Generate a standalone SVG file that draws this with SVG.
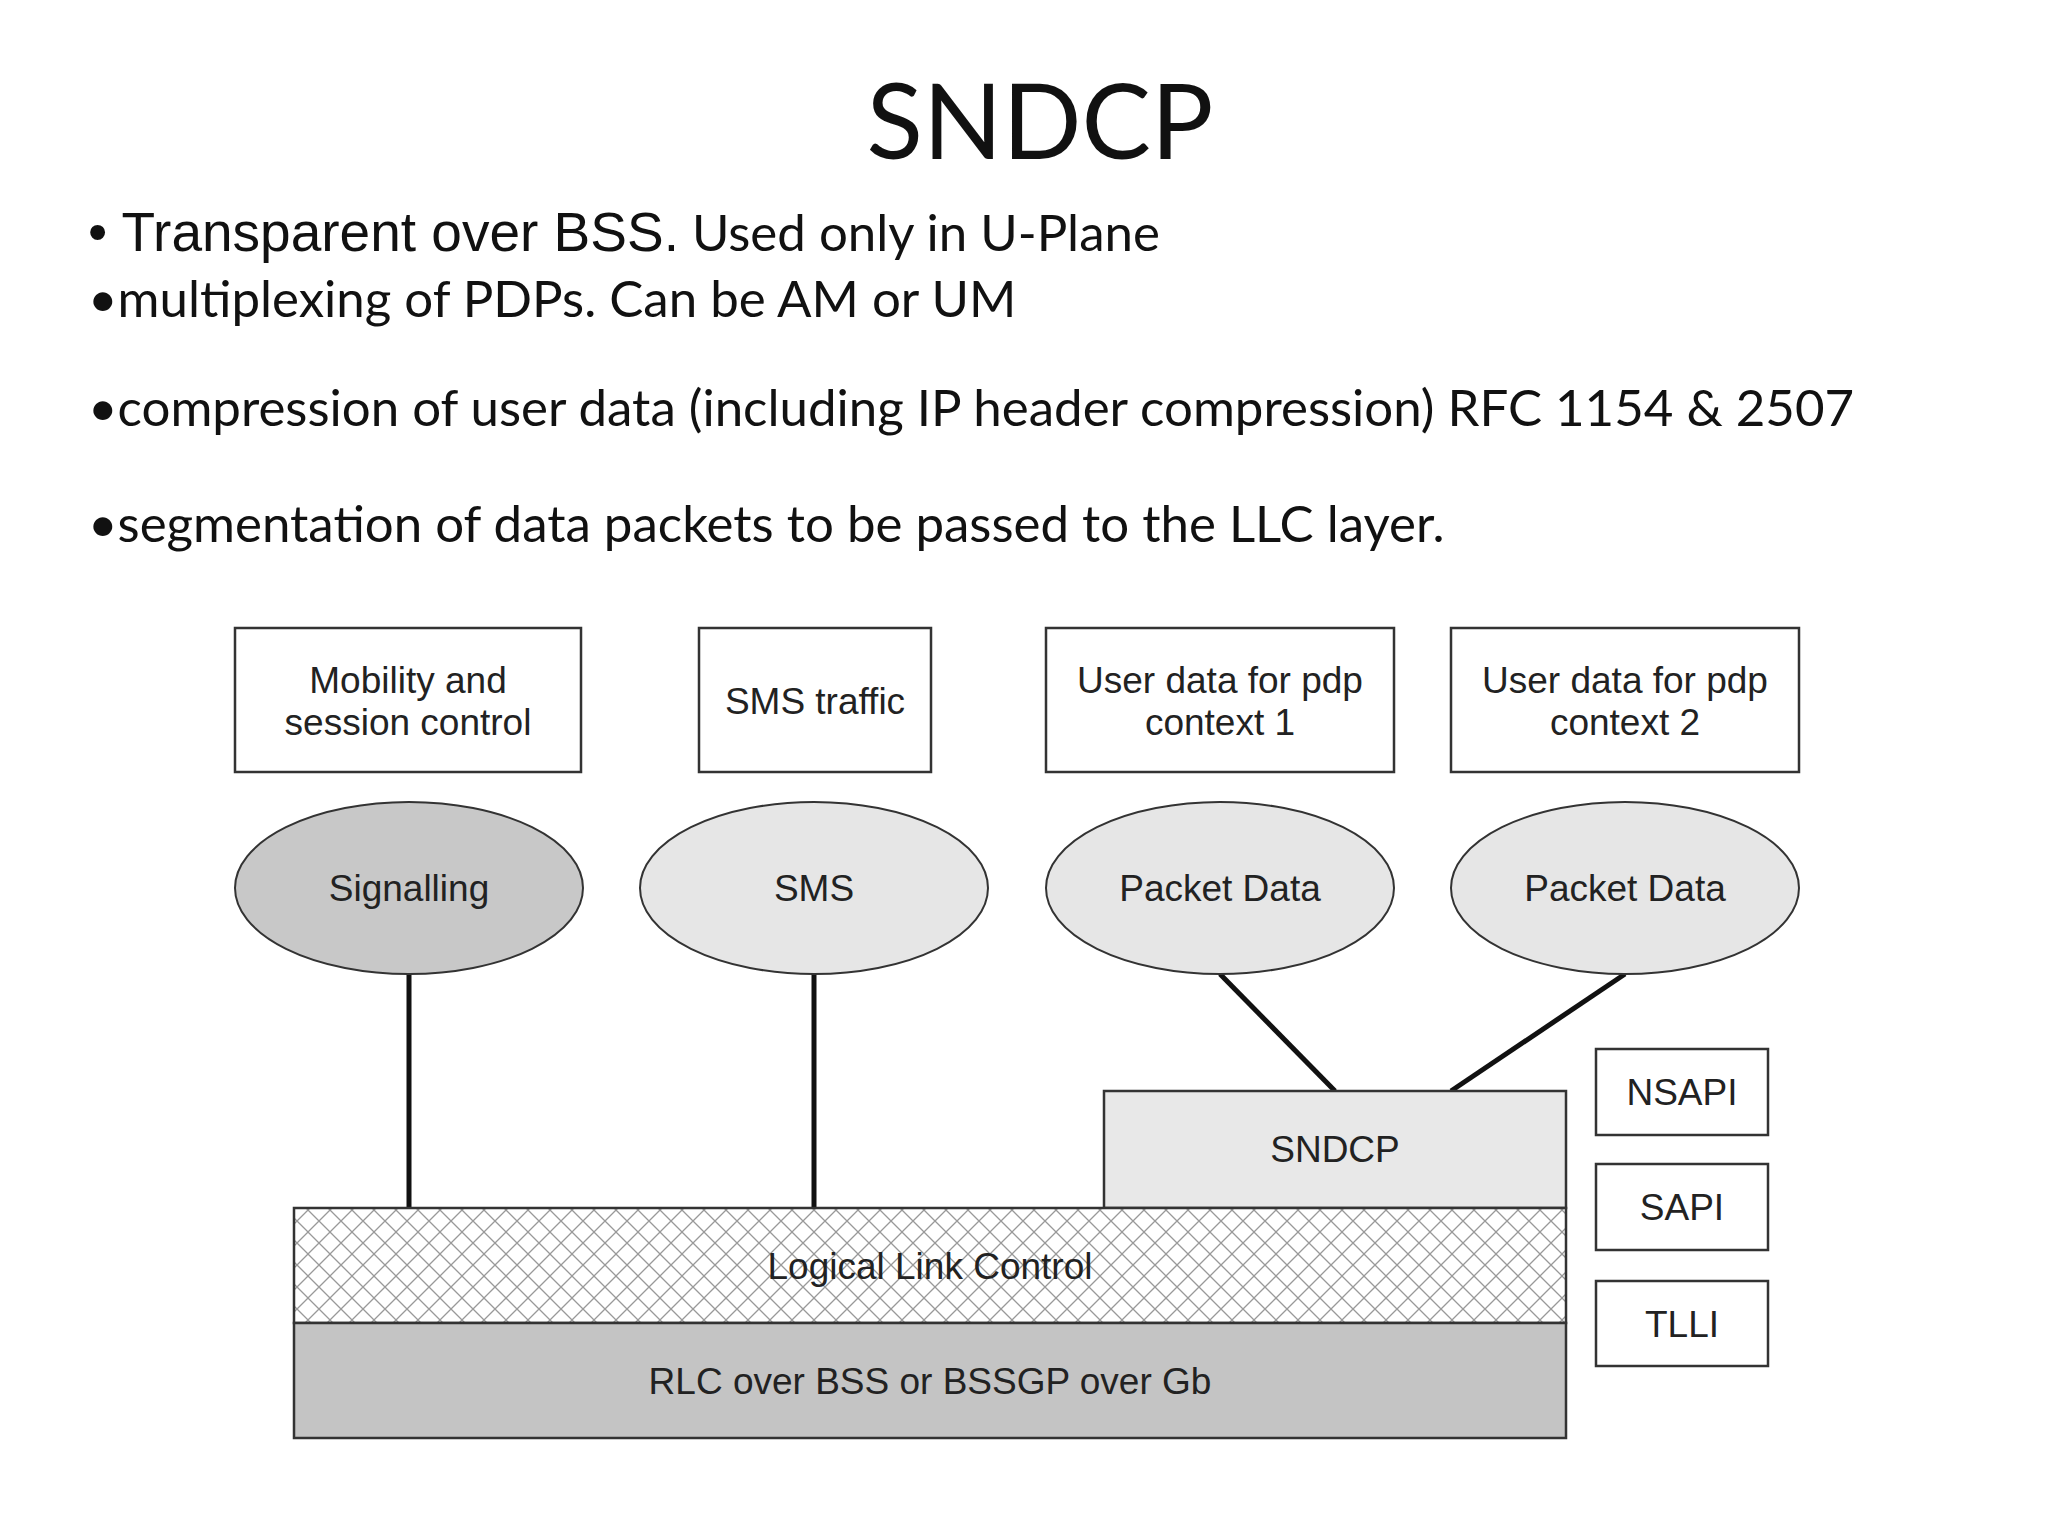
<svg xmlns="http://www.w3.org/2000/svg" width="2048" height="1536" viewBox="0 0 2048 1536">
<style>
.t{font-family:"Liberation Sans",Arial,sans-serif;font-size:37px;fill:#222;text-anchor:middle}
.b{fill:#fff;stroke:#333;stroke-width:2.5}
.e{stroke:#333;stroke-width:2}
.c{stroke:#111;stroke-width:5;fill:none}
.s{font-family:Lato,"Open Sans",sans-serif;font-size:51px;fill:#111}
</style>
<defs>
<pattern id="x" width="22" height="22" patternUnits="userSpaceOnUse">
<rect width="22" height="22" fill="#fff"/>
<path d="M0 0L22 22M22 0L0 22" stroke="#999" stroke-width="1.3"/>
</pattern>
</defs>
<rect width="2048" height="1536" fill="#fff"/>
<text x="1040" y="159" font-family="Lato,'Open Sans',sans-serif" font-size="104" text-anchor="middle" fill="#111">SNDCP</text>
<text x="88" y="251" class="s"><tspan font-family="'Liberation Sans',Arial,sans-serif" font-size="55">•  Transparent over  BSS.</tspan> Used only in U-Plane</text>
<text x="88" y="317" class="s">•multiplexing of PDPs.  Can be AM or UM</text>
<text x="88" y="426" class="s">•compression of user data (including IP header compression)  RFC 1154 &amp; 2507</text>
<text x="88" y="542" class="s">•segmentation of data packets to be passed to the LLC layer.</text>
<g id="connectors">
<line class="c" x1="409" y1="974" x2="409" y2="1208"/>
<line class="c" x1="814" y1="974" x2="814" y2="1208"/>
<line class="c" x1="1220" y1="974" x2="1335" y2="1091"/>
<line class="c" x1="1625" y1="974" x2="1451" y2="1091"/>
</g>
<g id="box1"><rect class="b" x="235" y="628" width="346" height="144"/><text class="t" x="408" y="693">Mobility and</text><text class="t" x="408" y="735">session control</text></g>
<g id="box2"><rect class="b" x="699" y="628" width="232" height="144"/><text class="t" x="815" y="714">SMS traffic</text></g>
<g id="box3"><rect class="b" x="1046" y="628" width="348" height="144"/><text class="t" x="1220" y="693">User data for pdp</text><text class="t" x="1220" y="735">context 1</text></g>
<g id="box4"><rect class="b" x="1451" y="628" width="348" height="144"/><text class="t" x="1625" y="693">User data for pdp</text><text class="t" x="1625" y="735">context 2</text></g>
<g id="sig"><ellipse class="e" cx="409" cy="888" rx="174" ry="86" fill="#c8c8c8"/><text class="t" x="409" y="901">Signalling</text></g>
<g id="sms"><ellipse class="e" cx="814" cy="888" rx="174" ry="86" fill="#e6e6e6"/><text class="t" x="814" y="901">SMS</text></g>
<g id="pd1"><ellipse class="e" cx="1220" cy="888" rx="174" ry="86" fill="#e6e6e6"/><text class="t" x="1220" y="901">Packet Data</text></g>
<g id="pd2"><ellipse class="e" cx="1625" cy="888" rx="174" ry="86" fill="#e6e6e6"/><text class="t" x="1625" y="901">Packet Data</text></g>
<g id="sndcp"><rect class="b" x="1104" y="1091" width="462" height="117" fill="#e8e8e8" style="fill:#e8e8e8"/><text class="t" x="1335" y="1162">SNDCP</text></g>
<g id="llc"><rect x="294" y="1208" width="1272" height="115" fill="url(#x)" stroke="#333" stroke-width="2.5"/><text class="t" x="930" y="1279">Logical Link Control</text></g>
<g id="rlc"><rect x="294" y="1323" width="1272" height="115" fill="#c4c4c4" stroke="#333" stroke-width="2.5"/><text class="t" x="930" y="1394">RLC over BSS or BSSGP over Gb</text></g>
<g id="nsapi"><rect class="b" x="1596" y="1049" width="172" height="86"/><text class="t" x="1682" y="1105">NSAPI</text></g>
<g id="sapi"><rect class="b" x="1596" y="1164" width="172" height="86"/><text class="t" x="1682" y="1220">SAPI</text></g>
<g id="tlli"><rect class="b" x="1596" y="1281" width="172" height="85"/><text class="t" x="1682" y="1337">TLLI</text></g>
</svg>
